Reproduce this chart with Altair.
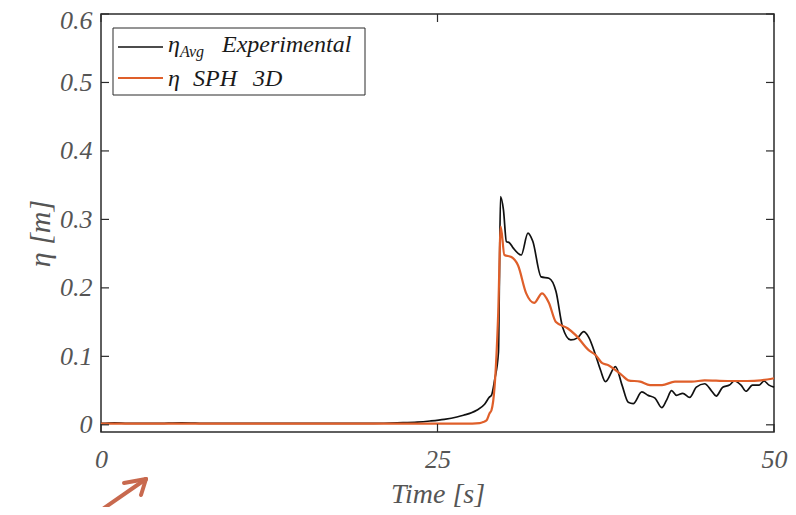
import altair as alt
import pandas as pd

# ---------------- data ----------------
exp_t = [0, 1, 2, 4, 6, 8, 10, 12, 14, 16, 18, 20, 22, 23.5, 24.45, 25.5, 26.44, 26.93,
         27.91, 28.5, 28.87, 29.01, 29.24, 29.53, 29.60, 29.68, 29.90, 30.12, 30.34, 30.63,
         31.22, 31.72, 32.08, 32.70, 33.28, 33.80, 34.29, 34.90, 35.40, 35.86, 36.23, 36.74,
         37.11, 37.48, 38.22, 38.71, 39.17, 39.54, 40.18, 40.65, 41.16, 41.66, 42.02, 42.39,
         42.76, 43.22, 43.74, 44.23, 44.85, 45.34, 45.71, 46.19, 46.69, 47.05, 47.55, 47.92,
         48.40, 48.90, 49.26, 49.63, 50.00]
exp_eta = [0.002, 0.003, 0.002, 0.002, 0.003, 0.002, 0.002, 0.002, 0.002, 0.002, 0.002, 0.002,
           0.003, 0.004, 0.0056, 0.008, 0.0114, 0.0139, 0.0212, 0.030, 0.0407, 0.0432, 0.0651,
           0.1065, 0.2115, 0.3334, 0.314, 0.2675, 0.266, 0.258, 0.248, 0.280, 0.268, 0.216,
           0.214, 0.195, 0.143, 0.124, 0.127, 0.136, 0.128, 0.102, 0.080, 0.063, 0.085, 0.058,
           0.033, 0.031, 0.048, 0.043, 0.039, 0.025, 0.036, 0.050, 0.043, 0.046, 0.040, 0.055,
           0.060, 0.050, 0.042, 0.055, 0.058, 0.064, 0.058, 0.049, 0.058, 0.058, 0.064, 0.058,
           0.055]

sph_t = [0, 2, 5, 10, 15, 20, 25, 27, 28.13, 28.40, 28.65, 28.87, 29.01, 29.24, 29.51, 29.70,
         29.97, 30.49, 30.98, 31.59, 32.18, 32.77, 33.28, 33.80, 34.66, 35.27, 36.23, 36.74,
         37.24, 37.70, 38.22, 38.73, 39.17, 40.06, 40.79, 41.68, 42.64, 43.89, 44.85, 46.54,
         48.01, 49.04, 50.00]
sph_eta = [0.0017, 0.0017, 0.0017, 0.0017, 0.0017, 0.0017, 0.0017, 0.0018, 0.0026, 0.0041,
           0.0066, 0.0168, 0.0212, 0.0553, 0.163, 0.2895, 0.248, 0.245, 0.233, 0.192, 0.178,
           0.192, 0.178, 0.150, 0.141, 0.131, 0.109, 0.102, 0.090, 0.087, 0.080, 0.072, 0.065,
           0.063, 0.058, 0.058, 0.063, 0.063, 0.065, 0.064, 0.064, 0.065, 0.068]

x_ticks = [0, 25, 50]
y_ticks = [0, 0.1, 0.2, 0.3, 0.4, 0.5, 0.6]

# ---------------- layout ----------------
W, H = 673, 418
FONT = "'Liberation Serif', 'Times New Roman', Times, serif"
GRAY = "#555555"
FRAME = "#2b2b2b"
BLACK = "#111111"
ORANGE = "#DF5F2A"
ARROW = "#C8694E"

exp_df = pd.DataFrame({"t": exp_t, "eta": exp_eta})
sph_df = pd.DataFrame({"t": sph_t, "eta": sph_eta})
xt_df = pd.DataFrame({"t": x_ticks})
yt_df = pd.DataFrame({"eta": y_ticks})

x_scale = alt.Scale(domain=[0, 50], nice=False, zero=False)
y_scale = alt.Scale(domain=[-0.0105, 0.6], nice=False, zero=False)

x_axis = alt.Axis(values=x_ticks, title="Time [s]", ticks=False, domain=False, grid=False,
                  labelFont=FONT, labelFontStyle="italic", labelFontSize=26, labelColor=GRAY,
                  labelBaseline="alphabetic", labelPadding=35,
                  titleFont=FONT, titleFontStyle="italic", titleFontSize=28, titleColor=GRAY,
                  titleFontWeight="normal", titleBaseline="alphabetic", titleY=70,
                  labelFlush=False, labelOverlap=False)
y_axis = alt.Axis(values=y_ticks, title="η  [m]", ticks=False, domain=False, grid=False,
                  format=".1~f",
                  labelFont=FONT, labelFontStyle="italic", labelFontSize=26, labelColor=GRAY,
                  labelPadding=9, labelBaseline="middle",
                  labelOffset={"expr": "datum.value >= 0.599 ? 6 : 0"},
                  titleFont=FONT, titleFontStyle="italic", titleFontSize=30, titleColor=GRAY,
                  titleFontWeight="normal", titleAngle=-90, titleBaseline="middle",
                  titleAlign="center", titleX=-61, titleY=219,
                  labelFlush=False, labelOverlap=False)

X = alt.X("t:Q", scale=x_scale, axis=x_axis)
Y = alt.Y("eta:Q", scale=y_scale, axis=y_axis)

exp_line = alt.Chart(exp_df).mark_line(color=BLACK, strokeWidth=1.7, interpolate="monotone").encode(
    x=X, y=Y, order="t:Q")
sph_line = alt.Chart(sph_df).mark_line(color=ORANGE, strokeWidth=2.2, interpolate="monotone").encode(
    x=X, y=Y, order="t:Q")

# inward ticks on all four sides
tk = 8
yl = alt.Chart(yt_df).mark_rule(color=FRAME, strokeWidth=1.2).encode(y=Y, x=alt.value(0), x2=alt.value(tk))
yr = alt.Chart(yt_df).mark_rule(color=FRAME, strokeWidth=1.2).encode(y=Y, x=alt.value(W - tk), x2=alt.value(W))
xb = alt.Chart(xt_df).mark_rule(color=FRAME, strokeWidth=1.2).encode(x=X, y=alt.value(H - tk), y2=alt.value(H))
xtp = alt.Chart(xt_df).mark_rule(color=FRAME, strokeWidth=1.2).encode(x=X, y=alt.value(0), y2=alt.value(tk))

one = alt.Data(values=[{"k": 1}])

# legend (drawn by hand for the subscript)
leg_box = alt.Chart(one).mark_rect(fill="white", stroke=FRAME, strokeWidth=1).encode(
    x=alt.value(12), x2=alt.value(264), y=alt.value(14), y2=alt.value(81))
leg_l1 = alt.Chart(one).mark_rule(color=BLACK, strokeWidth=1.7).encode(
    x=alt.value(17), x2=alt.value(62), y=alt.value(33), y2=alt.value(33))
leg_l2 = alt.Chart(one).mark_rule(color=ORANGE, strokeWidth=2.2).encode(
    x=alt.value(17), x2=alt.value(62), y=alt.value(64), y2=alt.value(64))


def txt(s, x, y, size=24):
    return alt.Chart(one).mark_text(text=s, font=FONT, fontStyle="italic", fontSize=size,
                                    color="#1a1a1a", align="left", baseline="alphabetic").encode(
        x=alt.value(x), y=alt.value(y))


leg_txt = [
    txt("η", 67, 38),
    txt("Avg", 79, 43, 16),
    txt("Experimental", 121, 38),
    txt("η", 67, 72),
    txt("SPH", 92, 72),
    txt("3D", 152, 72),
]

# arrow annotation below the axis
def seg(x1, y1, x2, y2):
    return alt.Chart(one).mark_rule(color=ARROW, strokeWidth=4, strokeCap="round").encode(
        x=alt.value(x1), y=alt.value(y1), x2=alt.value(x2), y2=alt.value(y2))


arrow = [seg(-4, 499, 45, 465), seg(45, 465, 23, 469), seg(45, 465, 40, 481)]

chart = alt.layer(
    exp_line, sph_line, yl, yr, xb, xtp, leg_box, leg_l1, leg_l2, *leg_txt, *arrow
).properties(
    width=W, height=H,
    autosize=alt.AutoSizeParams(type="none"),
    padding={"left": 93, "top": 6, "right": 14, "bottom": 75},
).configure_view(
    stroke=FRAME, strokeWidth=1.5
)

chart.save("out.html", embed_options={"renderer": "svg", "actions": False})
